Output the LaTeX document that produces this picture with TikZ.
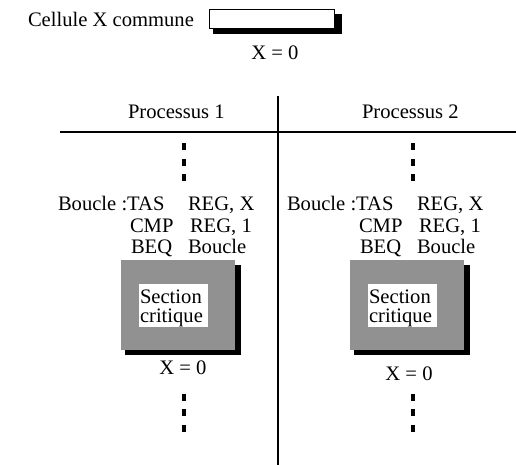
\documentclass[tikz,border=0pt]{standalone}
\usepackage{fontspec}
\setmainfont{Liberation Serif}
\definecolor{boxgray}{RGB}{145,145,145}
\begin{document}
\begin{tikzpicture}[x=1pt,y=-1pt,
  txt/.style={inner sep=0pt,outer sep=0pt,anchor=base west,font=\fontsize{20.6}{22}\selectfont},
  ctxt/.style={txt,anchor=base},
  dotcol/.style={line width=4pt,dash pattern=on 7pt off 8.5pt},
  shadowbox/.style={fill=black,draw=none},
  graybox/.style={fill=boxgray,draw=none},
  whitebox/.style={fill=white,draw=none}]
\useasboundingbox (0,0) rectangle (516,465);
% shared cell
\node[txt] (cell) at (28,27) {Cellule X commune};
\fill[shadowbox] (213,14) rectangle (342,34);
\filldraw[fill=white,draw=black,line width=0.8pt] (209,9) rectangle (334,28);
\node[ctxt] (x0) at (275,60) {X = 0};
% dividers
\coordinate (vtop) at (278,96);
\coordinate (vbot) at (278,465);
\draw[line width=1.4pt] (vtop) -- (vbot);
\coordinate (hl) at (60,132);
\coordinate (hr) at (516,132);
\draw[line width=1.4pt] (hl) -- (hr);
\node[txt] (p1) at (128,119) {Processus 1};
\node[txt] (p2) at (362,119) {Processus 2};
% process columns
\foreach \dx/\n in {0/a,229/b}{
  \begin{scope}[xshift=\dx]
    \coordinate (dt1\n) at (183.5,143.5);
    \coordinate (dt2\n) at (183.5,181);
    \draw[dotcol] (dt1\n) -- (dt2\n);
    \node[txt] (l1\n) at (58,210) {Boucle :TAS};
    \node[txt] (r1\n) at (188,210) {REG, X};
    \node[txt] (l2\n) at (130,232) {CMP};
    \node[txt] (r2\n) at (190,232) {REG, 1};
    \node[txt] (l3\n) at (131,253) {BEQ};
    \node[txt] (r3\n) at (188,253) {Boucle};
    \fill[shadowbox] (125,265) rectangle (241,355);
    \fill[graybox] (121,260) rectangle (235,350);
    \fill[whitebox] (139,284) rectangle (208,327);
    \node[txt] (s1\n) at (140,303) {Section};
    \node[txt] (s2\n) at (140,322) {critique};
    \coordinate (db1\n) at (183.5,393.5);
    \coordinate (db2\n) at (183.5,432);
    \draw[dotcol] (db1\n) -- (db2\n);
  \end{scope}
}
\node[ctxt] (xa) at (183,374) {X = 0};
\node[ctxt] (xb) at (409,380) {X = 0};
\end{tikzpicture}
\end{document}
